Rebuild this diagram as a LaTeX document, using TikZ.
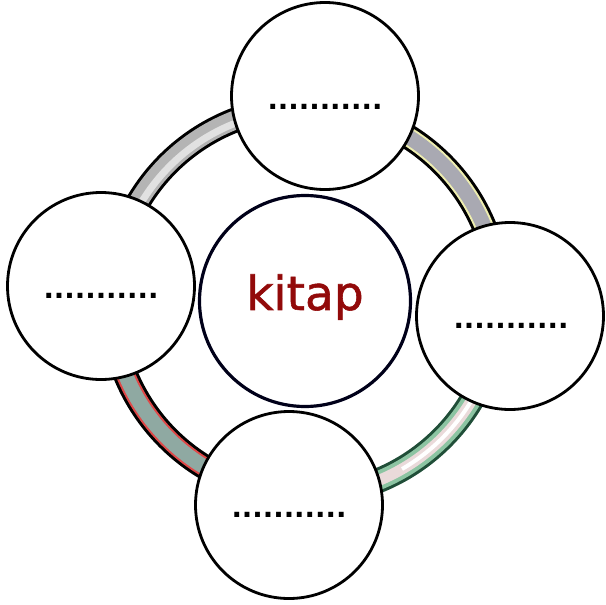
\documentclass[tikz,border=0pt]{standalone}
\usepackage{fontspec}
\newfontfamily\dotfont{DejaVu Sans}
\newfontfamily\kfont[FakeBold=1.2]{DejaVu Sans}
\definecolor{kred}{HTML}{920A0A}
\definecolor{tlgray}{HTML}{B4B4B4}
\definecolor{trgray}{HTML}{A9A9B2}
\definecolor{tryel}{HTML}{EEEEB0}
\definecolor{brgreen}{HTML}{2E7050}
\definecolor{brmid}{HTML}{8CC4A2}
\definecolor{brpink}{HTML}{EADADA}
\definecolor{blteal}{HTML}{8FA9A2}
\definecolor{blred}{HTML}{E04848}
\begin{document}
\begin{tikzpicture}[x=1pt,y=-1pt,
  sat/.style={circle,draw=black,line width=2.8pt,fill=white,minimum size=187pt,inner sep=0pt},
  hub/.style={circle,draw=black!90!blue,line width=3.2pt,fill=white,minimum size=211pt,inner sep=0pt},
  dots/.style={inner sep=0pt,font=\dotfont\bfseries\fontsize{27.5}{30}\selectfont},
  tubeout/.style={line width=25pt,draw=black},
]
\useasboundingbox (0,0) rectangle (605,605);
\coordinate (O) at (305,301);
% ring segments
\begin{scope}
% top-left
\draw[tubeout] ([shift={(184:194)}]O) arc[start angle=184,end angle=276,radius=194];
\draw[line width=19pt,tlgray] ([shift={(184:194)}]O) arc[start angle=184,end angle=276,radius=194];
\draw[line width=7pt,white,opacity=0.6] ([shift={(184:191)}]O) arc[start angle=184,end angle=276,radius=191];
% top-right
\draw[tubeout] ([shift={(276:194)}]O) arc[start angle=276,end angle=364,radius=194];
\draw[line width=19pt,tryel] ([shift={(276:194)}]O) arc[start angle=276,end angle=364,radius=194];
\draw[line width=15pt,trgray] ([shift={(276:194)}]O) arc[start angle=276,end angle=364,radius=194];
% bottom-right
\draw[line width=25pt,brgreen!70!black] ([shift={(4:194)}]O) arc[start angle=4,end angle=94.5,radius=194];
\draw[line width=19pt,brmid] ([shift={(4:194)}]O) arc[start angle=4,end angle=94.5,radius=194];
\draw[line width=11pt,brpink] ([shift={(4:194)}]O) arc[start angle=4,end angle=94.5,radius=194];
\draw[line width=4pt,white] ([shift={(4:194)}]O) arc[start angle=4,end angle=60,radius=194];
% bottom-left
\draw[tubeout] ([shift={(94.5:194)}]O) arc[start angle=94.5,end angle=184,radius=194];
\draw[line width=19pt,blred] ([shift={(94.5:194)}]O) arc[start angle=94.5,end angle=184,radius=194];
\draw[line width=15pt,blteal] ([shift={(94.5:194)}]O) arc[start angle=94.5,end angle=184,radius=194];
\end{scope}
% circles
\node[hub] (C) at (O) {};
\node[sat] (T) at (325,96) {};
\node[sat] (L) at (101,286) {};
\node[sat] (R) at (510,316) {};
\node[sat] (B) at (289,505) {};
% texts
\node[text=kred,font=\kfont\fontsize{47}{50}\selectfont,inner sep=0pt] (K) at (305,297) {kitap};
\node[dots] (dT) at (325,107) {...........};
\node[dots] (dL) at (101,296) {...........};
\node[dots] (dR) at (511,326) {...........};
\node[dots] (dB) at (289,515) {...........};
\end{tikzpicture}
\end{document}
